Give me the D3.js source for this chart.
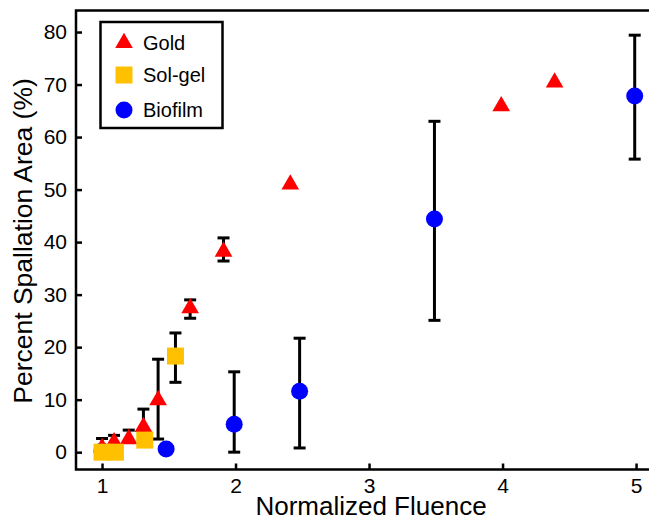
<!DOCTYPE html>
<meta charset="utf-8" />
<style>
  body { margin: 0; background: #fff; }
  text { font-family: "Liberation Sans", Arial, sans-serif; fill: #000; }
  .tick line { stroke: #000; stroke-width: 2.5px; }
  .tick text { font-size: 21px; }
  .frame { stroke: #000; stroke-width: 2.5px; fill: none; }
  .err { stroke: #000; stroke-width: 3px; }
</style>
<body>
  <script src="https://d3js.org/d3.v7.min.js"></script>
  <script>
    // data
    var goldX  = [1.0, 1.09, 1.20, 1.31, 1.42, 1.66, 1.91, 2.41, 3.99, 4.39];
    var goldY  = [0.8, 1.9, 2.5, 4.8, 9.9, 27.4, 38.2, 51.0, 65.9, 70.4];
    var goldLo = [null, null, null, null, 2.5, 25.5, 36.4, null, null, null];
    var goldHi = [null, 3.2, 4.2, 8.2, 17.7, 29.0, 40.8, null, null, null];

    var solX  = [1.0, 1.1, 1.32, 1.55];
    var solY  = [0, 0, 2.3, 18.3];
    var solLo = [null, null, null, 13.3];
    var solHi = [null, null, null, 22.7];

    var bioX  = [1.0, 1.48, 1.99, 2.48, 3.49, 4.99];
    var bioY  = [0.2, 0.6, 5.3, 11.6, 44.4, 67.8];
    var bioLo = [null, null, 0, 0.8, 25.1, 55.8];
    var bioHi = [2.6, null, 15.3, 21.7, 63.0, 79.4];

    var xTicks = [1, 2, 3, 4, 5];
    var yTicks = [0, 10, 20, 30, 40, 50, 60, 70, 80];
    var seriesNames = ['Gold', 'Sol-gel', 'Biofilm'];

    var width = 649, height = 519;

    var svg = d3.select('body').append('svg')
      .attr('width', width)
      .attr('height', height);

    // scales
    var x = d3.scaleLinear().domain([0.805, 5.1]).range([76, 649.4]);
    var y = d3.scaleLinear().domain([-3.3, 84.1]).range([469.5, 10.5]);

    // axes, ticks pointing inward
    svg.append('g')
      .attr('transform', 'translate(0,' + y.range()[0] + ')')
      .call(d3.axisBottom(x).tickValues(xTicks).tickFormat(d3.format('d'))
        .tickSizeInner(-6).tickSizeOuter(0).tickPadding(9))
      .call(function(g) { g.select('.domain').remove(); });

    svg.append('g')
      .attr('transform', 'translate(' + x.range()[0] + ',0)')
      .call(d3.axisLeft(y).tickValues(yTicks).tickFormat(d3.format('d'))
        .tickSizeInner(-6).tickSizeOuter(0).tickPadding(9))
      .call(function(g) { g.select('.domain').remove(); });

    // frame: left, bottom, top
    svg.append('path')
      .attr('class', 'frame')
      .attr('d', 'M' + (width + 2) + ',' + y.range()[1] +
                 'H' + x.range()[0] +
                 'V' + y.range()[0] +
                 'H' + (width + 2));

    // axis titles
    svg.append('text')
      .attr('x', 371).attr('y', 515)
      .attr('text-anchor', 'middle')
      .style('font-size', '26px')
      .text('Normalized Fluence');

    svg.append('text')
      .attr('transform', 'translate(32,241) rotate(-90)')
      .attr('text-anchor', 'middle')
      .style('font-size', '26.5px')
      .text('Percent Spallation Area (%)');

    // error bars
    function errorBars(xs, ys, lo, hi) {
      var g = svg.append('g');
      xs.forEach(function(xv, i) {
        [lo[i], hi[i]].forEach(function(e) {
          if (e === null) return;
          g.append('line').attr('class', 'err')
            .attr('x1', x(xv)).attr('x2', x(xv))
            .attr('y1', y(ys[i])).attr('y2', y(e));
          g.append('line').attr('class', 'err')
            .attr('x1', x(xv) - 6).attr('x2', x(xv) + 6)
            .attr('y1', y(e)).attr('y2', y(e));
        });
      });
    }
    errorBars(bioX, bioY, bioLo, bioHi);
    errorBars(goldX, goldY, goldLo, goldHi);
    errorBars(solX, solY, solLo, solHi);

    var triangle = d3.symbol().type(d3.symbolTriangle).size(135);
    var square = d3.symbol().type(d3.symbolSquare).size(289);
    var circle = d3.symbol().type(d3.symbolCircle).size(227);

    function points(xs, ys, sym, color) {
      svg.append('g').selectAll('path')
        .data(xs)
        .enter().append('path')
        .attr('d', sym)
        .attr('fill', color)
        .attr('transform', function(d, i) {
          return 'translate(' + x(d) + ',' + y(ys[i]) + ')';
        });
    }
    points(bioX, bioY, circle, '#0000ff');
    points(goldX, goldY, triangle, '#ff0000');
    points(solX, solY, square, '#ffc000');

    // legend
    var legend = svg.append('g');
    legend.append('rect')
      .attr('x', 100.5).attr('y', 22)
      .attr('width', 122).attr('height', 106)
      .attr('fill', '#fff')
      .attr('stroke', '#000').attr('stroke-width', 2.5);

    var legSyms = [triangle, square, circle];
    var legColors = ['#ff0000', '#ffc000', '#0000ff'];
    var legY = [43, 75, 110];
    seriesNames.forEach(function(name, i) {
      legend.append('path')
        .attr('d', legSyms[i])
        .attr('fill', legColors[i])
        .attr('transform', 'translate(124,' + legY[i] + ')');
      legend.append('text')
        .attr('x', 143).attr('y', legY[i])
        .attr('dy', '0.36em')
        .style('font-size', '20px')
        .text(name);
    });
  </script>
</body>
